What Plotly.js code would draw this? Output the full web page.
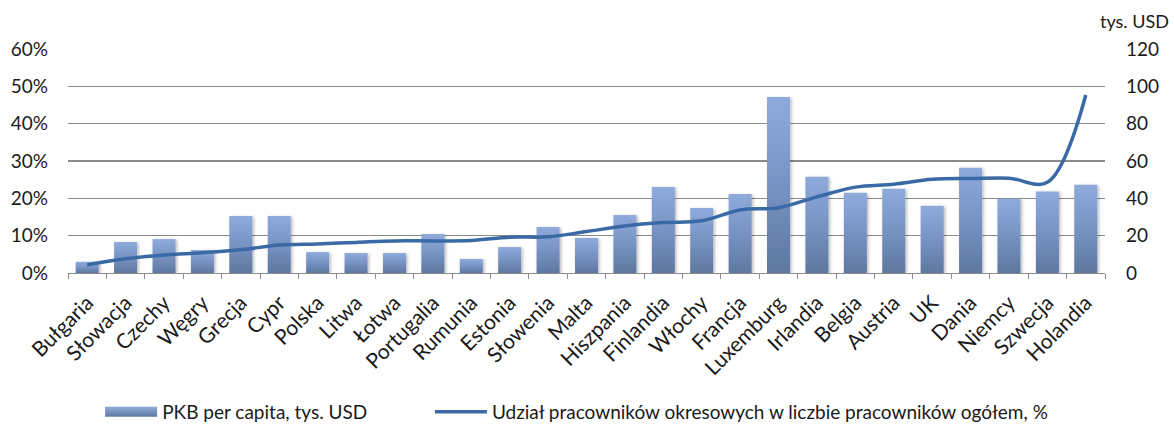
<!DOCTYPE html>
<html>
<head>
<meta charset="utf-8">
<script src="https://cdn.plot.ly/plotly-3.0.1.min.js"></script>
<style>
  html, body { margin: 0; padding: 0; background: #fff; }
  #chart { width: 1174px; height: 428px; }
</style>
</head>
<body>
<div id="chart"></div>
<script>
// Countries, ordered by share of temporary employees
const countries = [
  'Bułgaria', 'Słowacja', 'Czechy', 'Węgry', 'Grecja', 'Cypr', 'Polska', 'Litwa', 'Łotwa',
  'Portugalia', 'Rumunia', 'Estonia', 'Słowenia', 'Malta', 'Hiszpania', 'Finlandia', 'Włochy',
  'Francja', 'Luxemburg', 'Irlandia', 'Belgia', 'Austria', 'UK', 'Dania', 'Niemcy', 'Szwecja', 'Holandia'
];

// GDP per capita, thousand USD (right axis)
const gdpPerCapita = [
  6.0, 16.6, 18.2, 12.3, 30.5, 30.5, 11.2, 10.7, 10.7,
  20.9, 7.5, 13.9, 24.6, 18.8, 31.1, 46.1, 34.8,
  42.3, 94.3, 51.6, 43.0, 45.2, 36.0, 56.4, 39.8, 43.6, 47.3
];

// Share of temporary employees in total employees, % (left axis)
const temporaryShare = [
  2.2, 3.8, 4.8, 5.4, 6.2, 7.5, 7.8, 8.2, 8.6,
  8.6, 8.7, 9.6, 9.7, 11.1, 12.6, 13.5, 14.0,
  16.9, 17.5, 20.4, 23.0, 23.8, 25.1, 25.3, 25.4, 24.3, 47.7
];

const gdpName = 'PKB per capita, tys. USD';
const shareName = 'Udział pracowników okresowych w liczbie pracowników ogółem, %';

const FONT = 'Lato, "Open Sans", sans-serif';
const TXT = '#1a1a1a';
const FS = 19;

const traces = [
  {
    type: 'bar',
    name: gdpName,
    x: countries,
    y: gdpPerCapita,
    yaxis: 'y',
    legend: 'legend',
    marker: { color: '#7692c2', line: { width: 0 } }
  },
  {
    type: 'scatter',
    mode: 'lines',
    name: shareName,
    x: countries,
    y: temporaryShare,
    yaxis: 'y2',
    legend: 'legend2',
    line: { color: '#3a6aa6', width: 3.5, shape: 'spline', smoothing: 1 }
  }
];

const legendBase = {
  orientation: 'h',
  xanchor: 'left',
  y: -0.62, yanchor: 'middle',
  font: { family: FONT, size: FS, color: TXT },
  itemwidth: 52,
  bgcolor: 'rgba(0,0,0,0)',
  borderwidth: 0
};

const layout = {
  width: 1174,
  height: 428,
  margin: { l: 68, r: 69, t: 49, b: 155, autoexpand: false },
  paper_bgcolor: '#ffffff',
  plot_bgcolor: '#ffffff',
  font: { family: FONT, size: FS, color: TXT },
  bargap: 0.4,
  showlegend: true,
  legend: Object.assign({}, legendBase, { x: 0.031 }),
  legend2: Object.assign({}, legendBase, { x: 0.349 }),
  xaxis: {
    type: 'category',
    tickangle: -45,
    tickson: 'boundaries',
    ticks: 'outside',
    ticklen: 5,
    tickcolor: '#8c8c8c',
    showline: true,
    linecolor: '#8c8c8c',
    linewidth: 1.3,
    showgrid: false,
    automargin: false,
    ticklabelstandoff: 8,
    tickfont: { family: FONT, size: 21, color: TXT },
    fixedrange: true
  },
  // columns: thousand USD on the right-hand side, gridlines come from this axis
  yaxis: {
    side: 'right',
    range: [0, 120],
    dtick: 20,
    tick0: 0,
    showgrid: true,
    gridcolor: '#8a8a8a',
    gridwidth: 1.4,
    zeroline: false,
    showline: false,
    ticks: '',
    automargin: false,
    ticklabelstandoff: 20,
    tickfont: { family: FONT, size: FS, color: TXT },
    fixedrange: true
  },
  // line: percentage on the left-hand side
  yaxis2: {
    overlaying: 'y',
    side: 'left',
    range: [0, 60],
    dtick: 10,
    tick0: 0,
    ticksuffix: '%',
    showgrid: false,
    zeroline: false,
    showline: false,
    ticks: '',
    automargin: false,
    ticklabelstandoff: 19,
    tickfont: { family: FONT, size: FS, color: TXT },
    fixedrange: true
  },
  annotations: [
    {
      text: 'tys. USD',
      xref: 'paper', yref: 'paper',
      x: 1.0, xanchor: 'right', xshift: 66,
      y: 1.0, yanchor: 'bottom', yshift: 15,
      showarrow: false,
      font: { family: FONT, size: 18, color: TXT }
    }
  ]
};

const gd = document.getElementById('chart');

// Vertical gradient and soft shadow for the columns
function styleBars() {
  const svg = gd.querySelector('.main-svg');
  const ns = 'http://www.w3.org/2000/svg';
  let defs = svg.querySelector('defs');
  if (!defs) { defs = document.createElementNS(ns, 'defs'); svg.insertBefore(defs, svg.firstChild); }

  const addGradient = (id, stops) => {
    const grad = document.createElementNS(ns, 'linearGradient');
    grad.setAttribute('id', id);
    grad.setAttribute('x1', '0'); grad.setAttribute('y1', '0');
    grad.setAttribute('x2', '0'); grad.setAttribute('y2', '1');
    stops.forEach(([o, c]) => {
      const s = document.createElementNS(ns, 'stop');
      s.setAttribute('offset', o); s.setAttribute('stop-color', c);
      grad.appendChild(s);
    });
    defs.appendChild(grad);
  };
  addGradient('pkbGrad', [['0', '#8eabdb'], ['0.5', '#7893c3'], ['1', '#5d789f']]);
  addGradient('pkbGradLegend', [['0', '#8eabdb'], ['1', '#5d789f']]);

  const filt = document.createElementNS(ns, 'filter');
  filt.setAttribute('id', 'pkbShadow');
  filt.setAttribute('x', '-30%'); filt.setAttribute('y', '-10%');
  filt.setAttribute('width', '160%'); filt.setAttribute('height', '120%');
  const sh = document.createElementNS(ns, 'feDropShadow');
  sh.setAttribute('dx', '1.5'); sh.setAttribute('dy', '1');
  sh.setAttribute('stdDeviation', '1.6');
  sh.setAttribute('flood-color', '#000'); sh.setAttribute('flood-opacity', '0.28');
  filt.appendChild(sh);
  defs.appendChild(filt);

  gd.querySelectorAll('.barlayer .point path').forEach(p => {
    p.style.fill = 'url(#pkbGrad)';
    p.setAttribute('filter', 'url(#pkbShadow)');
  });

  // wide legend swatch for the column series
  gd.querySelectorAll('g.traces').forEach(item => {
    const label = item.querySelector('text.legendtext');
    if (!label || label.textContent.indexOf('PKB') !== 0) return;
    item.querySelectorAll('.legendpoints path').forEach(p => {
      p.setAttribute('d', 'M-26,-5h52v10h-52Z');
      p.style.fill = 'url(#pkbGradLegend)';
      p.style.stroke = 'none';
    });
  });
}

Plotly.newPlot(gd, traces, layout, { displayModeBar: false, staticPlot: true }).then(styleBars);
</script>
</body>
</html>
